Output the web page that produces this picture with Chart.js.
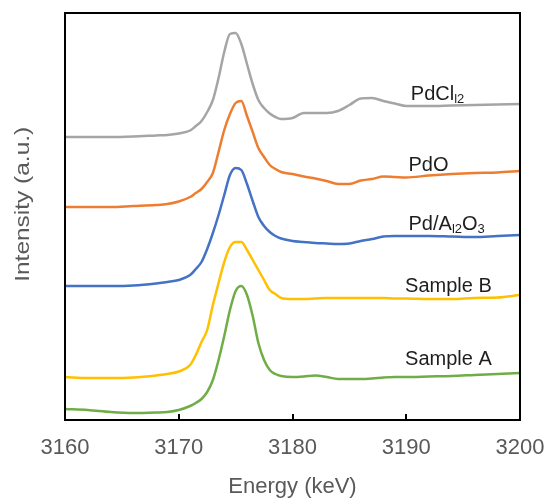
<!DOCTYPE html>
<html>
<head>
<meta charset="utf-8">
<script src="https://cdn.jsdelivr.net/npm/chart.js@4.4.1/dist/chart.umd.min.js"></script>
<style>
  html, body { margin: 0; padding: 0; background: #fff; }
  #wrap { width: 548px; height: 498px; }
</style>
</head>
<body>
<div id="wrap"><canvas id="xanes"></canvas></div>
<script>
// energy grid (keV as labelled on the axis)
let energies = [3160, 3162, 3164, 3166, 3168, 3169, 3170, 3171, 3171.5, 3172, 3172.5, 3173, 3173.5, 3174, 3174.5,
  3175, 3175.5, 3176, 3176.5, 3177, 3177.5, 3178, 3178.5, 3179, 3180, 3181, 3182, 3183, 3184, 3185,
  3186, 3187, 3188, 3189, 3190, 3192, 3194, 3196, 3198, 3200];

// stacked intensities (arbitrary units, offsets included)
let pdcl2 = [283, 283, 283, 283.5, 284.5, 285, 286.5, 289.5, 294, 299, 308, 320, 342, 368, 386,
  387, 376, 356, 336, 320, 312, 306.5, 303, 301, 302, 307, 307, 307, 309, 315,
  321.5, 322, 319, 316.5, 314, 314, 314.5, 315, 315.5, 316];
let pdo = [213, 213, 213, 214, 215, 216, 218.5, 223, 227, 231, 238, 247, 268, 290, 306,
  317, 319, 304, 288, 272, 263, 255, 251, 248, 246, 243.5, 241.5, 239, 236, 236,
  239.5, 241, 243.5, 243, 242.5, 244.5, 246, 247, 247.5, 249];
let pdAl2O3 = [134, 134, 134, 134.5, 136.5, 138, 140, 145, 151, 158, 171, 187, 205, 225, 245,
  252, 250, 236, 219, 203, 194, 188, 184, 181.5, 179, 178, 177, 176.5, 176, 176.5,
  179, 181, 183.5, 184, 184, 184, 183.5, 183, 184, 185];
let sampleB = [43, 42, 42, 42.5, 44.5, 46, 48.5, 55, 65, 78, 90, 115, 137, 158, 173,
  178, 178, 170, 160, 150, 140, 130, 126, 122, 121, 121, 121.5, 122, 122, 122,
  122, 122, 122, 121.5, 121.5, 121, 121, 122, 122.5, 125];
let sampleA = [11, 10, 8, 7, 7.5, 8, 10, 14, 17, 21, 28, 40, 60, 84, 110,
  129, 134, 125, 104, 77, 60, 50, 46, 44, 43, 43.5, 44.5, 43, 41, 41,
  41, 41.5, 42.5, 43, 43, 43.5, 44, 45, 46, 47];

let xTicks = [3160, 3170, 3180, 3190, 3200];

function pts(arr) {
  return energies.map((e, i) => ({ x: e, y: arr[i] }));
}

// curve labels: [text, subscript?] pieces, anchored in data units
let curveLabels = [
  { x: 3190.4, y: 320, parts: [['PdCl', false], ['l2', true]] },
  { x: 3190.2, y: 249, parts: [['PdO', false]] },
  { x: 3190.2, y: 190, parts: [['Pd/A', false], ['l2', true], ['O', false], ['3', true]] },
  { x: 3189.9, y: 128, parts: [['Sample B', false]] },
  { x: 3189.9, y: 55, parts: [['Sample A', false]] }
];

const FONT = '"Liberation Sans", Arial, sans-serif';

let framePlugin = {
  id: 'frame',
  afterDatasetsDraw(chart) {
    const { ctx, chartArea: a, scales } = chart;
    ctx.save();
    // inside tick marks on bottom axis
    ctx.strokeStyle = '#000';
    ctx.lineWidth = 2;
    xTicks.forEach(v => {
      const px = Math.round(scales.x.getPixelForValue(v));
      ctx.beginPath();
      ctx.moveTo(px, a.bottom);
      ctx.lineTo(px, a.bottom - 6);
      ctx.stroke();
    });
    ctx.strokeRect(a.left, a.top, a.right - a.left, a.bottom - a.top);

    // curve labels
    ctx.fillStyle = '#1e1e1e';
    ctx.textBaseline = 'alphabetic';
    ctx.textAlign = 'left';
    curveLabels.forEach(l => {
      let px = scales.x.getPixelForValue(l.x);
      const py = scales.y.getPixelForValue(l.y);
      l.parts.forEach(p => {
        ctx.font = (p[1] ? '13px ' : '20px ') + FONT;
        ctx.fillText(p[0], px, py + (p[1] ? 3 : 0));
        px += ctx.measureText(p[0]).width;
      });
    });

    // y axis title, a bit above the middle and drawn wide like the original
    ctx.font = '21px ' + FONT;
    ctx.fillStyle = '#595959';
    ctx.textAlign = 'center';
    ctx.textBaseline = 'middle';
    const yt = 'Intensity (a.u.)';
    const stretch = 155 / ctx.measureText(yt).width;
    ctx.translate(23, a.top + (a.bottom - a.top) * 0.47);
    ctx.rotate(-Math.PI / 2);
    ctx.scale(stretch, 1);
    ctx.fillText(yt, 0, 0);
    ctx.restore();
  }
};

function series(label, arr, color) {
  return {
    label: label,
    data: pts(arr),
    borderColor: color,
    backgroundColor: color,
    borderWidth: 2.5,
    pointRadius: 0,
    cubicInterpolationMode: 'monotone',
    fill: false
  };
}

new Chart(document.getElementById('xanes'), {
  type: 'line',
  data: {
    datasets: [
      series('PdCl2', pdcl2, '#A5A5A5'),
      series('PdO', pdo, '#ED7D31'),
      series('Pd/Al2O3', pdAl2O3, '#4472C4'),
      series('Sample B', sampleB, '#FFC000'),
      series('Sample A', sampleA, '#70AD47')
    ]
  },
  options: {
    responsive: true,
    maintainAspectRatio: false,
    animation: false,
    layout: { padding: { top: 13, right: 28, left: 0, bottom: 0 } },
    plugins: {
      legend: { display: false },
      tooltip: { enabled: false }
    },
    scales: {
      x: {
        type: 'linear',
        min: 3160,
        max: 3200,
        afterFit: s => { s.height = 78; s.paddingLeft = 0; s.paddingRight = 0; },
        afterBuildTicks: s => { s.ticks = xTicks.map(v => ({ value: v })); },
        grid: { display: false, drawTicks: false },
        border: { display: false },
        ticks: {
          color: '#595959',
          padding: 15,
          font: { family: FONT, size: 22 },
          maxRotation: 0,
          callback: v => String(v)
        },
        title: {
          display: true,
          text: 'Energy (keV)',
          color: '#595959',
          font: { family: FONT, size: 22, lineHeight: 1 },
          padding: { top: 0, bottom: 0 }
        }
      },
      y: {
        type: 'linear',
        min: 0,
        max: 407,
        afterFit: s => { s.width = 65; s.paddingTop = 0; s.paddingBottom = 0; },
        grid: { display: false, drawTicks: false },
        border: { display: false },
        ticks: { display: false },
        title: { display: false }
      }
    }
  },
  plugins: [framePlugin]
});
</script>
</body>
</html>
